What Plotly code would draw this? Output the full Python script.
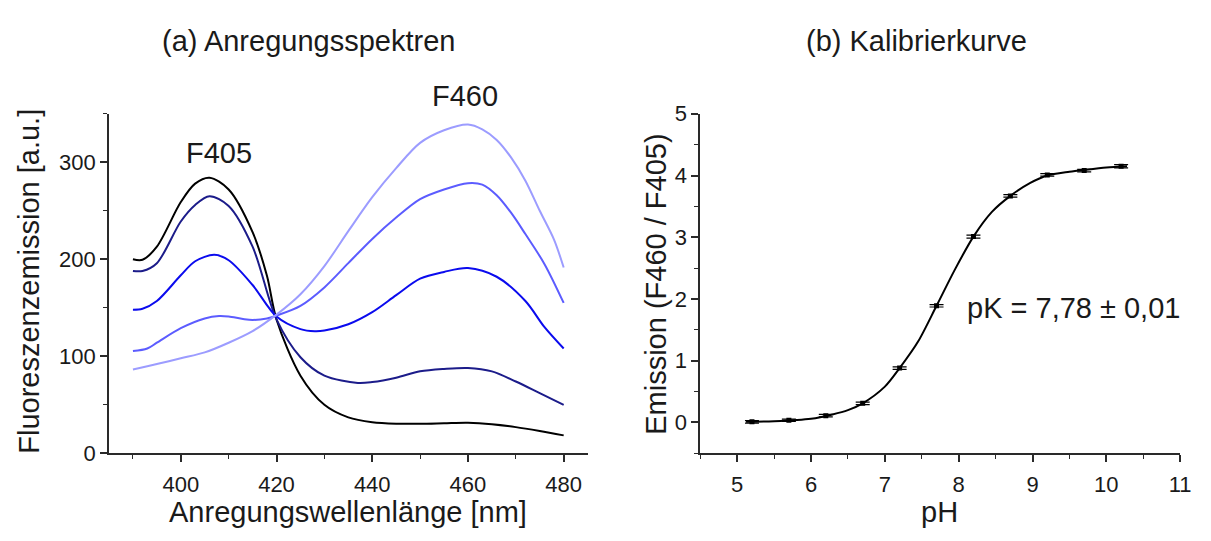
import plotly.graph_objects as go

# ---- (a) excitation spectra: wavelength grid [nm] and intensities [a.u.] ----
wl_black = [390, 392, 395, 400, 403, 406, 410, 415, 418, 420, 425, 430, 435, 440, 445, 450, 455, 460, 465, 470, 475, 480]
em_black = [200, 199.5, 213, 259, 278, 284, 272, 228, 183, 138, 80, 50, 37, 32, 30.5, 30.5, 31, 31.5, 30, 27, 23, 18.5]

wl_navy = [390, 392, 395, 400, 403, 406, 410, 415, 420, 425, 430, 437, 440, 445, 450, 455, 460, 465, 470, 475, 480]
em_navy = [188, 188, 196, 239, 256, 265, 255, 213, 138, 99, 80, 72.6, 73.5, 78, 84.5, 87, 88, 84.5, 74, 62, 50]

wl_blue = [390, 392, 395, 400, 403, 407, 410, 415, 420, 425, 428, 430, 435, 440, 445, 450, 455, 460, 466, 472, 476, 480]
em_blue = [148, 149, 157, 183.5, 198, 204.6, 199, 173.5, 141, 128, 125.8, 126.5, 133, 145.5, 163, 180, 187, 191, 182, 157, 130, 108]

wl_mid = [390, 393, 395, 400, 405, 408, 410, 413, 415, 418, 420, 425, 430, 435, 440, 445, 450, 455, 460, 463, 466, 469, 472, 476, 480]
em_mid = [105.4, 108, 114, 129, 139, 141.5, 141, 138.5, 137.5, 139, 142, 152, 171, 196, 221, 243, 262, 272, 278.5, 277, 266, 248, 226, 195, 155]

wl_light = [390, 395, 400, 405, 410, 415, 420, 425, 430, 435, 440, 445, 450, 455, 460, 463, 466, 469, 472, 475, 478, 480]
em_light = [86.4, 92, 98, 104, 114, 126, 143, 164, 193, 229, 264, 294, 320, 333, 339, 334, 323, 305, 281, 250, 220, 191.5]

spectra = [
    (wl_black, em_black, "#000000"),
    (wl_navy, em_navy, "#1c1c8a"),
    (wl_blue, em_blue, "#0b0bee"),
    (wl_mid, em_mid, "#5c5cff"),
    (wl_light, em_light, "#9c9cff"),
]

# ---- (b) calibration: measured ratios and the fitted sigmoid ----
ph_points = [5.2, 5.7, 6.2, 6.7, 7.2, 7.7, 8.2, 8.7, 9.2, 9.7, 10.2]
ratio_points = [0.01, 0.035, 0.11, 0.31, 0.88, 1.89, 3.01, 3.67, 4.01, 4.08, 4.15]
ratio_err = [0.02, 0.02, 0.02, 0.02, 0.02, 0.02, 0.025, 0.02, 0.02, 0.02, 0.025]

fit_ph = [5.12, 5.5, 6.0, 6.29, 6.5, 6.7, 7.0, 7.2, 7.45, 7.7, 7.95, 8.2, 8.45, 8.7, 8.97, 9.2, 9.5, 9.7, 10.0, 10.28]
fit_ratio = [0.01, 0.02, 0.06, 0.13, 0.20, 0.31, 0.58, 0.88, 1.31, 1.89, 2.48, 3.01, 3.41, 3.67, 3.88, 4.00, 4.06, 4.09, 4.13, 4.15]

W, H = 1211, 541
FONT = "Liberation Sans, Arial, sans-serif"
AXIS_COLOR = "#2a2a2a"
TEXT_COLOR = "#1a1a1a"

def px(x):
    return x / W

def py(y):
    return 1 - y / H

fig = go.Figure()

for wl, em, col in spectra:
    fig.add_trace(go.Scatter(
        x=wl, y=em, mode="lines",
        line=dict(color=col, width=2, shape="spline", smoothing=0.9),
        xaxis="x", yaxis="y", showlegend=False, hoverinfo="skip",
    ))

fig.add_trace(go.Scatter(
    x=fit_ph, y=fit_ratio, mode="lines",
    line=dict(color="#000000", width=2, shape="spline", smoothing=0.8),
    xaxis="x2", yaxis="y2", showlegend=False,
))
fig.add_trace(go.Scatter(
    x=ph_points, y=ratio_points, mode="markers",
    marker=dict(color="#000000", size=5, symbol="square"),
    error_y=dict(type="data", array=ratio_err, visible=True, color="#000000", thickness=1.2, width=7),
    xaxis="x2", yaxis="y2", showlegend=False,
))

tick_font = dict(family=FONT, size=22, color=TEXT_COLOR)
axis_common = dict(
    showline=True, linecolor=AXIS_COLOR, linewidth=1.6,
    ticks="outside", ticklen=7, tickwidth=1.5, tickcolor=AXIS_COLOR,
    showgrid=False, zeroline=False, tickfont=tick_font,
)
minor_common = dict(ticks="outside", ticklen=4, tickwidth=1.3, tickcolor=AXIS_COLOR)

y_top, y_bot = 106.7, 462.7

fig.update_layout(
    width=W, height=H,
    margin=dict(l=0, r=0, t=0, b=0),
    paper_bgcolor="white", plot_bgcolor="white",
    font=dict(family=FONT, color=TEXT_COLOR),
    xaxis=dict(
        domain=[px(110), px(593)], range=[385, 485],
        tick0=400, dtick=20, ticklabelstandoff=3,
        minor=dict(dtick=10, tick0=390, **minor_common),
        anchor="y", **axis_common,
    ),
    yaxis=dict(
        domain=[py(y_bot), py(y_top)], range=[0, 350],
        tick0=0, dtick=100,
        minor=dict(dtick=50, tick0=0, **minor_common),
        anchor="x", **axis_common,
    ),
    xaxis2=dict(
        domain=[px(706.7), px(1191)], range=[4.5, 11],
        tick0=5, dtick=1, ticklabelstandoff=3,
        minor=dict(dtick=0.5, tick0=4.5, **minor_common),
        anchor="y2", **axis_common,
    ),
    yaxis2=dict(
        domain=[py(y_bot), py(y_top)], range=[-0.5, 5],
        tick0=0, dtick=1,
        minor=dict(dtick=0.5, tick0=-0.5, **minor_common),
        anchor="x2", **axis_common,
    ),
)

big = dict(family=FONT, size=29, color=TEXT_COLOR)

def paper_label(text, x, y, angle=0):
    return dict(text=text, x=px(x), y=py(y), xref="paper", yref="paper",
                xanchor="center", yanchor="middle", showarrow=False,
                textangle=angle, font=big)

annotations = [
    # panel titles
    paper_label("(a) Anregungsspektren", 311.5, 30),
    paper_label("(b) Kalibrierkurve", 925, 30),
    # axis titles
    paper_label("Anregungswellenlänge [nm]", 351.5, 524),
    paper_label("Fluoreszenzemission [a.u.]", 29, 282, -90),
    paper_label("pH", 948, 524),
    paper_label("Emission (F460 / F405)", 662, 285, -90),
    # peak labels
    dict(text="F405", x=407.9, y=310, xref="x", yref="y",
         xanchor="center", yanchor="middle", showarrow=False, font=big),
    paper_label("F460", 469.5, 88),
    # fit result
    dict(text="pK = 7,78 ± 0,01", x=8.08, y=1.86, xref="x2", yref="y2",
         xanchor="left", yanchor="middle", showarrow=False, font=big),
]
fig.update_layout(annotations=annotations)

fig.write_html("out.html")
